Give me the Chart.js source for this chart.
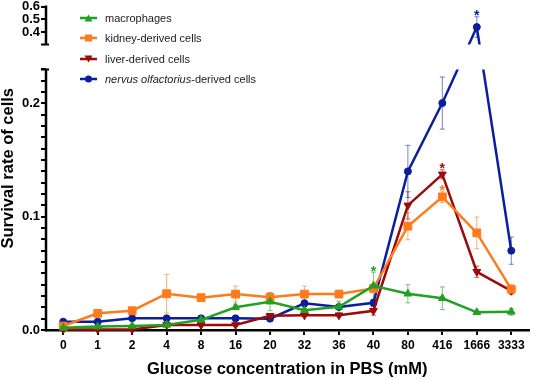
<!DOCTYPE html>
<html>
<head>
<meta charset="utf-8">
<script src="https://cdn.jsdelivr.net/npm/chart.js@4.4.0/dist/chart.umd.min.js"></script>
<style>
  html, body { margin: 0; padding: 0; background: #fff; }
  #wrap { position: relative; width: 535px; height: 379px; }
  #legenda { position: absolute; left: 80px; top: 8px; font: 11px 'Liberation Sans', Arial, sans-serif; color: #1a1a1a; }
  .item { height: 20.3px; display: flex; align-items: center; white-space: nowrap; }
  .item svg { margin-right: 8px; flex: none; }
</style>
</head>
<body>
<div id="wrap">
  <canvas id="grafico" width="535" height="379"></canvas>
  <div id="legenda"></div>
</div>
<script>
// Dados
const categorias = ['0', '1', '2', '4', '8', '16', '20', '32', '36', '40', '80', '416', '1666', '3333'];

const macrofagos     = [0.002, 0.003, 0.0035, 0.0045, 0.009, 0.020, 0.025, 0.0175, 0.0205, 0.039, 0.032, 0.028, 0.0156, 0.016];
const macrofagosErro = [0.001, 0.001, 0.001, 0.001, 0.001, 0.002, 0.008, 0.003, 0.005, 0.012, 0.008, 0.010, 0.001, 0.003];

const rim     = [0.0035, 0.0147, 0.017, 0.032, 0.0285, 0.0317, 0.0288, 0.0317, 0.0317, 0.0367, 0.0916, 0.1175, 0.0857, 0.036];
const rimErro = [0.001, 0.0015, 0.0015, 0.017, 0.002, 0.007, 0.004, 0.007, 0.003, 0.003, 0.012, 0.005, 0.014, 0.004];

const figado     = [0.0005, 0.0005, 0.0005, 0.0045, 0.0045, 0.0045, 0.0126, 0.013, 0.013, 0.017, 0.110, 0.1374, 0.0514, 0.0346];
const figadoErro = [0.0005, 0.0005, 0.0005, 0.001, 0.001, 0.001, 0.002, 0.001, 0.001, 0.004, 0.012, 0.004, 0.005, 0.003];

const nervo     = [0.0073, 0.0073, 0.0103, 0.0103, 0.0103, 0.0103, 0.010, 0.0235, 0.0203, 0.024, 0.140, 0.2003, 0.44, 0.070];
const nervoErro = [0.002, 0.001, 0.001, 0.001, 0.001, 0.001, 0.001, 0.003, 0.002, 0.003, 0.023, 0.023, 0.08, 0.012];

// índices com asterisco
const macrofagosEstrelas = [9];
const rimEstrelas = [11];
const figadoEstrelas = [11];
const nervoEstrelas = [12];

const nomesSeries = ['macrophages', 'kidney-derived cells', 'liver-derived cells', 'nervus olfactorius-derived cells'];
const partesItalico = [null, null, null, 'nervus olfactorius'];

const yTickValores = [0, 0.1, 0.2, 0.4, 0.5, 0.6];
const yTickRotulos = ['0.0', '0.1', '0.2', '0.4', '0.5', '0.6'];

// Eixo quebrado: 0..0.23 embaixo, 0.305..0.6 em cima
const BAIXO_MAX = 0.23;
const CIMA_MIN = 0.305;
const CIMA_MAX = 0.6;
const FRAC_BAIXO = 261 / 324;
const FRAC_CIMA = 38 / 324;

const FONTE = "'Liberation Sans', Arial, sans-serif";

class EscalaQuebrada extends Chart.LinearScale {
    static id = 'quebrada';

    getPixelForValue(v) {
        if (v === null || v === undefined || isNaN(v)) return NaN;
        const H = this.bottom - this.top;
        const yBaixoTopo = this.bottom - H * FRAC_BAIXO;
        const yCimaBase = this.top + H * FRAC_CIMA;
        if (v <= BAIXO_MAX) return this.bottom - (v / BAIXO_MAX) * (this.bottom - yBaixoTopo);
        if (v >= CIMA_MIN) return yCimaBase - (v - CIMA_MIN) / (CIMA_MAX - CIMA_MIN) * (yCimaBase - this.top);
        return yBaixoTopo - (v - BAIXO_MAX) / (CIMA_MIN - BAIXO_MAX) * (yBaixoTopo - yCimaBase);
    }

    getValueForPixel(p) {
        const H = this.bottom - this.top;
        const yBaixoTopo = this.bottom - H * FRAC_BAIXO;
        const yCimaBase = this.top + H * FRAC_CIMA;
        if (p >= yBaixoTopo) return (this.bottom - p) / (this.bottom - yBaixoTopo) * BAIXO_MAX;
        if (p <= yCimaBase) return CIMA_MIN + (yCimaBase - p) / (yCimaBase - this.top) * (CIMA_MAX - CIMA_MIN);
        return BAIXO_MAX + (yBaixoTopo - p) / (yBaixoTopo - yCimaBase) * (CIMA_MIN - BAIXO_MAX);
    }
}
Chart.register(EscalaQuebrada);

// todos os traços do eixo y (menores a cada 0.01 na parte de baixo)
const yTodosTicks = [];
for (let i = 0; i <= 23; i++) yTodosTicks.push(+(i * 0.01).toFixed(2));
yTodosTicks.push(0.4, 0.5, 0.6);

const series = [
    { nome: nomesSeries[0], dados: macrofagos, erros: macrofagosErro, estrelas: macrofagosEstrelas, cor: '#22a022', corErro: 'rgba(34,160,34,0.6)', estilo: 'triangle', raio: 4.5, rot: 0 },
    { nome: nomesSeries[1], dados: rim, erros: rimErro, estrelas: rimEstrelas, cor: '#ff7a1a', corErro: 'rgba(255,122,26,0.6)', estilo: 'rect', raio: 5.5, rot: 0 },
    { nome: nomesSeries[2], dados: figado, erros: figadoErro, estrelas: figadoEstrelas, cor: '#9c0a0a', corErro: 'rgba(156,10,10,0.6)', estilo: 'triangle', raio: 4.5, rot: 180 },
    { nome: nomesSeries[3], dados: nervo, erros: nervoErro, estrelas: nervoEstrelas, cor: '#0a1e9e', corErro: 'rgba(10,30,158,0.55)', estilo: 'circle', raio: 3.5, rot: 0 }
];

// Barras de erro, eixo quebrado e asteriscos
const pluginQuebra = {
    id: 'quebra',
    beforeDatasetsDraw(chart) {
        const { ctx, chartArea, scales: { y } } = chart;
        const yBaixoTopo = y.getPixelForValue(BAIXO_MAX);
        const yCimaBase = y.getPixelForValue(CIMA_MIN);
        const xe = chartArea.left;

        ctx.save();
        ctx.strokeStyle = '#000';
        ctx.lineWidth = 2.5;
        ctx.beginPath();
        ctx.moveTo(xe, chartArea.top - 1);
        ctx.lineTo(xe, yCimaBase);
        ctx.moveTo(xe, yBaixoTopo);
        ctx.lineTo(xe, chartArea.bottom + 1.25);
        ctx.stroke();
        ctx.lineWidth = 2;
        ctx.beginPath();
        ctx.moveTo(xe - 5, yCimaBase); ctx.lineTo(xe + 3, yCimaBase);
        ctx.moveTo(xe - 5, yBaixoTopo); ctx.lineTo(xe + 3, yBaixoTopo);
        ctx.stroke();
        ctx.restore();

        // recorta o vão entre as duas partes
        ctx.save();
        ctx.beginPath();
        ctx.rect(0, 0, chart.width, yCimaBase);
        ctx.rect(0, yBaixoTopo, chart.width, chart.height - yBaixoTopo);
        ctx.clip();

        chart.data.datasets.forEach((ds, di) => {
            const meta = chart.getDatasetMeta(di);
            ctx.strokeStyle = ds.corErro;
            ctx.lineWidth = 1;
            meta.data.forEach((pt, i) => {
                const v = ds.data[i], e = ds.erros[i];
                const y1 = y.getPixelForValue(v + e);
                const y2 = y.getPixelForValue(Math.max(0, v - e));
                ctx.beginPath();
                ctx.moveTo(pt.x, y1); ctx.lineTo(pt.x, y2);
                ctx.moveTo(pt.x - 2.5, y1); ctx.lineTo(pt.x + 2.5, y1);
                ctx.moveTo(pt.x - 2.5, y2); ctx.lineTo(pt.x + 2.5, y2);
                ctx.stroke();
            });
        });
    },
    afterDatasetsDraw(chart) {
        const { ctx, scales: { y } } = chart;
        ctx.restore();

        ctx.save();
        ctx.font = 'bold 14px ' + FONTE;
        ctx.textAlign = 'center';
        ctx.textBaseline = 'alphabetic';
        chart.data.datasets.forEach((ds, di) => {
            const meta = chart.getDatasetMeta(di);
            ctx.fillStyle = ds.borderColor;
            ds.estrelas.forEach(i => {
                const topo = y.getPixelForValue(ds.data[i] + ds.erros[i]);
                ctx.fillText('*', meta.data[i].x, topo + 3.5);
            });
        });
        ctx.restore();
    }
};

const datasets = series.map(s => ({
    label: s.nome,
    data: s.dados,
    erros: s.erros,
    estrelas: s.estrelas,
    corErro: s.corErro,
    borderColor: s.cor,
    backgroundColor: s.cor,
    borderWidth: 2.5,
    pointStyle: s.estilo,
    pointRadius: s.raio,
    pointRotation: s.rot,
    pointBorderWidth: 1,
    pointBackgroundColor: s.cor,
    pointBorderColor: s.cor,
    tension: 0,
    clip: false
}));

new Chart(document.getElementById('grafico'), {
    type: 'line',
    data: { labels: categorias, datasets },
    plugins: [pluginQuebra],
    options: {
        responsive: false,
        animation: false,
        devicePixelRatio: 1,
        layout: { padding: { top: 6, right: 3, left: 0, bottom: 0 } },
        plugins: {
            legend: { display: false },
            tooltip: { enabled: false }
        },
        scales: {
            x: {
                offset: true,
                afterFit: (s) => { s.height = 49; s.paddingLeft = 0; s.paddingRight = 0; },
                border: { display: true, color: '#000', width: 2.5 },
                grid: { display: true, offset: false, drawOnChartArea: false, drawTicks: true, tickLength: 5, color: '#000', lineWidth: 2 },
                ticks: { color: '#000', autoSkip: false, maxRotation: 0, padding: 3, font: { family: FONTE, size: 12, weight: 'bold' } },
                title: { display: true, text: 'Glucose concentration in PBS (mM)', color: '#000', padding: 0, font: { family: FONTE, size: 16.5, weight: 'bold' } }
            },
            y: {
                type: 'quebrada',
                min: 0,
                max: CIMA_MAX,
                afterBuildTicks: (s) => { s.ticks = yTodosTicks.map(v => ({ value: v })); },
                afterFit: (s) => { s.width = 46; s.paddingTop = 0; s.paddingBottom = 0; },
                border: { display: false },
                grid: { display: true, drawOnChartArea: false, drawTicks: true, tickLength: 5, color: '#000', lineWidth: 2 },
                ticks: {
                    autoSkip: false,
                    color: '#000',
                    padding: 1,
                    font: { family: FONTE, size: 13, weight: 'bold' },
                    callback: (valor) => {
                        const i = yTickValores.findIndex(t => Math.abs(t - valor) < 1e-9);
                        return i >= 0 ? yTickRotulos[i] : '';
                    }
                },
                title: { display: true, text: 'Survival rate of cells', color: '#000', padding: 0, font: { family: FONTE, size: 16.5, weight: 'bold', lineHeight: 1 } }
            }
        }
    }
});

// Legenda em HTML (para o itálico)
function simbolo(s) {
    let m = '';
    if (s.estilo === 'circle') m = `<circle cx="8.5" cy="5" r="3.5" fill="${s.cor}"/>`;
    else if (s.estilo === 'rect') m = `<rect x="5" y="1.5" width="7" height="7" fill="${s.cor}"/>`;
    else if (s.rot === 180) m = `<polygon points="4.5,1.5 12.5,1.5 8.5,8.5" fill="${s.cor}"/>`;
    else m = `<polygon points="8.5,1.5 12.5,8.5 4.5,8.5" fill="${s.cor}"/>`;
    return `<svg width="17" height="10"><line x1="0" y1="5" x2="17" y2="5" stroke="${s.cor}" stroke-width="2.5"/>${m}</svg>`;
}

const legenda = document.getElementById('legenda');
series.forEach((s, i) => {
    const linha = document.createElement('div');
    linha.className = 'item';
    let texto = s.nome;
    const it = partesItalico[i];
    if (it) texto = `<i>${it}</i>${s.nome.slice(it.length)}`;
    linha.innerHTML = simbolo(s) + `<span>${texto}</span>`;
    legenda.appendChild(linha);
});
</script>
</body>
</html>
